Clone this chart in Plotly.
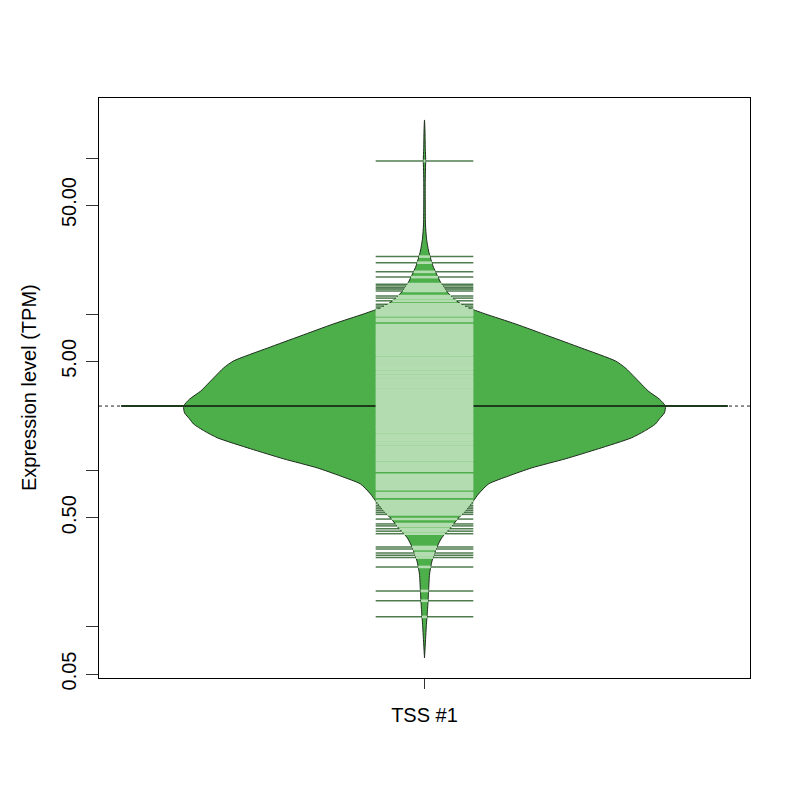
import numpy as np
import plotly.graph_objects as go

GROUP = "TSS #1"

# individual expression values (TPM), one bean line each
TPM_VALUES = [
    95.7, 23.4, 21.4, 18.7, 17.3, 15.6, 15.2, 14.8, 14.5, 14.1, 13.1, 12.7,
    12.2, 11.6, 11.3, 11.0,
    10.7, 10.4, 10.1, 9.85, 9.35, 9.07, 8.55, 8.3, 8.05, 7.8, 7.6, 7.35,
    7.15, 6.95, 6.75, 6.55, 6.35, 6.15, 6.0, 5.8, 5.65, 5.5, 5.3, 5.15,
    5.0, 4.85, 4.7, 4.58, 4.45, 4.3, 4.18, 4.05, 3.95, 3.82, 3.7, 3.6,
    3.5, 3.4, 3.3, 3.2, 3.1, 3.0, 2.92, 2.84, 2.75, 2.67, 2.6, 2.52,
    2.45, 2.38, 2.3, 2.24, 2.17, 2.1, 2.04, 1.98, 1.92, 1.87, 1.81, 1.76,
    1.7, 1.65, 1.6, 1.56, 1.51, 1.47, 1.42, 1.38, 1.34, 1.3, 1.26, 1.23,
    1.19, 1.16, 1.12, 1.09, 1.06, 1.03, 1.0, 0.94, 0.91, 0.885, 0.86,
    0.835, 0.81, 0.785, 0.762, 0.72, 0.70, 0.68, 0.64, 0.62, 0.60,
    0.585, 0.57, 0.555, 0.54, 0.525, 0.49, 0.456, 0.443, 0.425, 0.41,
    0.395, 0.325, 0.315, 0.297, 0.288, 0.278, 0.242, 0.170, 0.147, 0.116,
]

# bean outline: density (relative to widest point) at each TPM level
BEAN_TPM = [
    175.2, 149.0, 119.4, 107.7, 95.7, 85.1, 71.3, 53.1, 37.8, 30.8, 25.4,
    22.9, 20.4, 18.1, 15.9, 14.1, 12.5, 11.6, 11.0, 10.7, 10.05, 8.68,
    7.27, 6.09, 5.03, 4.54, 3.91, 3.23, 2.87, 2.59, 2.34, 2.14, 1.99,
    1.79, 1.62, 1.38, 1.19, 1.04, 0.924, 0.822, 0.709, 0.640, 0.552,
    0.498, 0.430, 0.371, 0.320, 0.264, 0.218, 0.170, 0.132, 0.104,
    0.0813, 0.0633,
]
BEAN_DENSITY = [
    0.0, 0.002, 0.003, 0.004, 0.005, 0.004, 0.003, 0.003, 0.004, 0.008,
    0.017, 0.025, 0.035, 0.050, 0.068, 0.091, 0.124, 0.154, 0.183, 0.203,
    0.253, 0.378, 0.515, 0.651, 0.793, 0.834, 0.876, 0.929, 0.975, 1.0,
    0.996, 0.975, 0.959, 0.913, 0.859, 0.722, 0.585, 0.444, 0.349, 0.266,
    0.224, 0.203, 0.170, 0.141, 0.108, 0.071, 0.050, 0.031, 0.021, 0.017,
    0.013, 0.008, 0.004, 0.0,
]

AVERAGE_TPM = 2.59

Y_TICKS = [0.05, 0.1, 0.5, 1, 5, 10, 50, 100]
Y_TICK_LABELS = ["0.05", "", "0.50", "", "5.00", "", "50.00", ""]

# ---- styling ----
BEAN_COL = "#4DAF4A"
INNER_COL = "#B3DDB0"
OUTER_COL = "rgba(20,80,20,0.75)"
AVG_COL = "#1E3A1D"
FONT = "Liberation Sans, Arial, sans-serif"

X0 = 1.0
BEAN_HALF = 0.37     # half-width of the widest part of the bean
LINE_HALF = 0.075    # half-length of each bean line
AVG_HALF = 0.466     # half-length of the average line

fig = go.Figure()

# --- bean polygon ---
dens = np.array(BEAN_DENSITY) * BEAN_HALF
ys = np.array(BEAN_TPM)
fig.add_trace(
    go.Scatter(
        x=np.concatenate([X0 - dens, (X0 + dens)[::-1]]),
        y=np.concatenate([ys, ys[::-1]]),
        mode="lines",
        fill="toself",
        fillcolor=BEAN_COL,
        line=dict(color="#1c2b1c", width=1, shape="spline", smoothing=0.6),
        hoverinfo="skip",
    )
)

# --- overall average (dotted) and bean average line ---
fig.add_trace(
    go.Scatter(
        x=[0.5, 1.5], y=[AVERAGE_TPM, AVERAGE_TPM], mode="lines",
        line=dict(color="#222222", width=1, dash="dot"), hoverinfo="skip",
    )
)
fig.add_trace(
    go.Scatter(
        x=[X0 - AVG_HALF, X0 + AVG_HALF], y=[AVERAGE_TPM, AVERAGE_TPM],
        mode="lines", line=dict(color=AVG_COL, width=2), hoverinfo="skip",
    )
)

# --- bean lines: light inside the bean, dark where they stick out ---
log_outline = np.log10(ys)[::-1]
dens_outline = dens[::-1]
inner_x, inner_y = [], []
outer = []
for v in TPM_VALUES:
    hw = float(np.interp(np.log10(v), log_outline, dens_outline))
    w = min(hw, LINE_HALF)
    inner_x += [X0 - w, X0 + w, None]
    inner_y += [v, v, None]
    if hw < LINE_HALF:
        outer.append((v, hw))

fig.add_trace(
    go.Scatter(
        x=inner_x, y=inner_y, mode="lines",
        line=dict(color=INNER_COL, width=2.6), hoverinfo="skip",
    )
)
for v, hw in outer:
    fig.add_trace(
        go.Scatter(
            x=[X0 - LINE_HALF, X0 - hw, None, X0 + hw, X0 + LINE_HALF],
            y=[v, v, None, v, v],
            mode="lines",
            line=dict(color=OUTER_COL, width=1.5),
            hoverinfo="skip",
        )
    )

fig.update_layout(
    width=800,
    height=800,
    margin=dict(l=91, r=58, t=90, b=130),
    paper_bgcolor="white",
    plot_bgcolor="white",
    showlegend=False,
    font=dict(family=FONT, size=20, color="black"),
)
fig.update_xaxes(
    range=[0.5, 1.5],
    tickvals=[X0],
    ticktext=[GROUP],
    ticks="outside",
    ticklen=10,
    tickcolor="#333333",
    ticklabelstandoff=9,
    showline=True,
    mirror=True,
    linecolor="black",
    linewidth=1,
    showgrid=False,
    zeroline=False,
)
fig.update_yaxes(
    type="log",
    range=[-1.3266, 2.384],
    tickvals=Y_TICKS,
    ticktext=Y_TICK_LABELS,
    tickangle=-90,
    ticks="outside",
    ticklen=12,
    tickcolor="#333333",
    ticklabelstandoff=2,
    showline=True,
    mirror=True,
    linecolor="black",
    linewidth=1,
    showgrid=False,
    zeroline=False,
)
fig.add_annotation(
    text="Expression level (TPM)",
    x=(28 - 98) / 651, xref="paper", xanchor="center",
    y=0.5, yref="paper", yanchor="middle",
    textangle=-90, showarrow=False,
    font=dict(family=FONT, size=20, color="black"),
)

fig.write_html("out.html")
